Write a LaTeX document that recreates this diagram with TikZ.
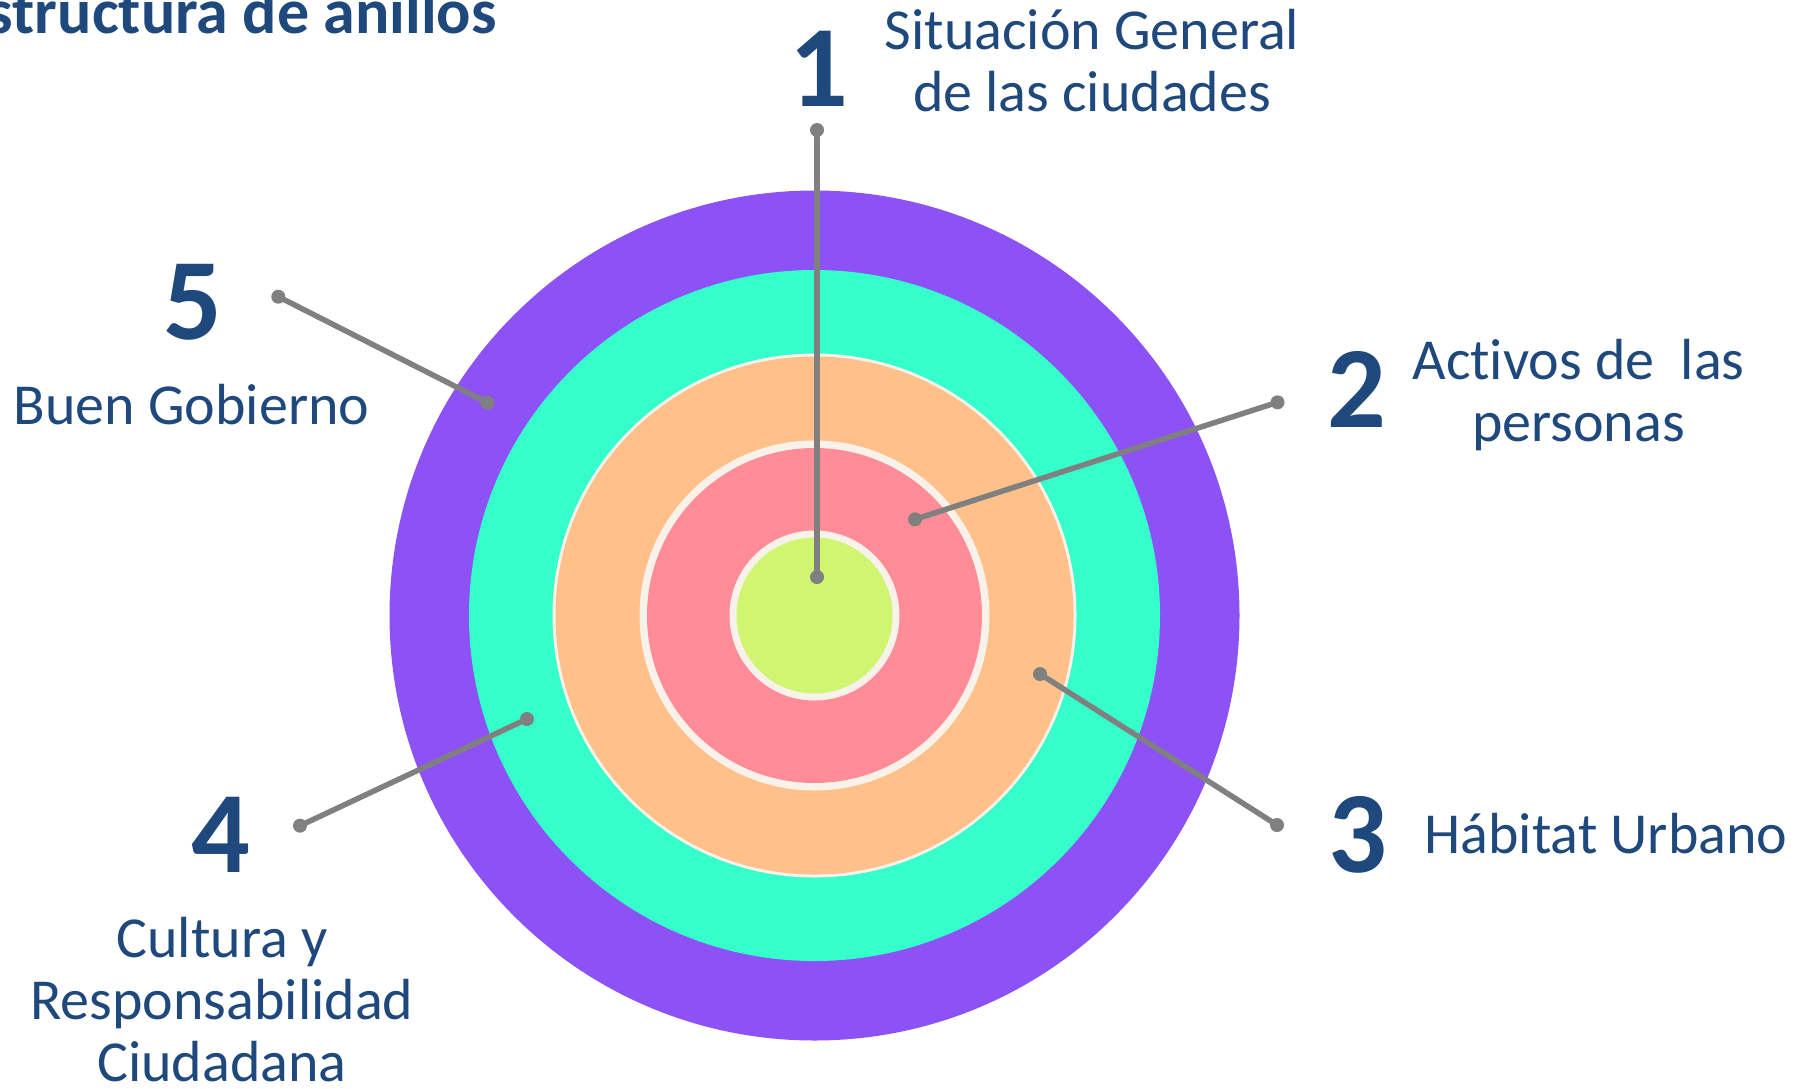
\documentclass[tikz,border=0pt]{standalone}
\usepackage{fontspec}
\setmainfont{Carlito}[RawFeature={-liga;-dlig;-calt;-clig}]
\definecolor{txtblue}{RGB}{31,73,125}
\definecolor{ringpurple}{RGB}{140,82,246}
\definecolor{ringteal}{RGB}{53,255,203}
\definecolor{ringorange}{RGB}{255,192,138}
\definecolor{ringpink}{RGB}{255,140,150}
\definecolor{ringgreen}{RGB}{208,245,112}
\definecolor{ringedge}{RGB}{248,242,234}
\definecolor{leader}{RGB}{128,128,128}
\begin{document}
\begin{tikzpicture}[x=1pt,y=-1pt,
  numlabel/.style={font=\bfseries\fontsize{116}{116}\selectfont, text=txtblue, inner sep=0pt, anchor=base},
  desclabel/.style={font=\fontsize{58}{62}\selectfont, text=txtblue, inner sep=0pt, anchor=base, align=center},
  titlelabel/.style={font=\bfseries\fontsize{64}{70}\selectfont, text=txtblue, inner sep=0pt, anchor=base east},
  leaderline/.style={draw=leader, line width=5.5pt},
  leaderdot/.style={fill=leader}
]
\useasboundingbox (0,0) rectangle (1812,1088);
\fill[white] (0,0) rectangle (1812,1088);
\coordinate (c) at (814.5,615.5);
% rings
\fill[ringpurple] (c) circle[radius=425pt];
\fill[ringteal] (c) circle[radius=345.5pt];
\fill[ringedge] (c) circle[radius=262pt];
\fill[ringorange] (c) circle[radius=259pt];
\fill[ringedge] (c) circle[radius=175pt];
\fill[ringpink] (c) circle[radius=167.5pt];
\fill[ringedge] (c) circle[radius=85pt];
\fill[ringgreen] (c) circle[radius=78pt];
% leader end points
\coordinate (a1) at (817,130);
\coordinate (b1) at (817,577);
\coordinate (a2) at (1277.5,402.3);
\coordinate (b2) at (915,519.3);
\coordinate (a3) at (1277,825);
\coordinate (b3) at (1040,674);
\coordinate (a4) at (300,825.7);
\coordinate (b4) at (527,719);
\coordinate (a5) at (278.3,296.7);
\coordinate (b5) at (487.5,402.7);
\foreach \i in {1,...,5}{
  \draw[leaderline] (a\i) -- (b\i);
  \fill[leaderdot] (a\i) circle[radius=7pt];
  \fill[leaderdot] (b\i) circle[radius=7pt];
}
% texts (multi-line nodes: base anchor is the last line's baseline)
\node[titlelabel] (title) at (497,33) {Estructura de anillos};
\node[numlabel] (n1) at (819,106) {1};
\node[desclabel] (t1) at (1092,111) {Situación General\\de las ciudades};
\node[numlabel] (n2) at (1356.5,427.3) {2};
\node[desclabel] (t2) at (1578.5,441) {Activos de~~las\\personas};
\node[numlabel] (n3) at (1357.5,872.5) {3};
\node[desclabel] (t3) at (1606,853) {Hábitat Urbano};
\node[numlabel] (n4) at (221,872.5) {4};
\node[desclabel] (t4) at (222,1081) {Cultura y\\Responsabilidad\\Ciudadana};
\node[numlabel] (n5) at (193,339.5) {5};
\node[desclabel] (t5) at (191.7,424) {Buen Gobierno};
\end{tikzpicture}
\end{document}
